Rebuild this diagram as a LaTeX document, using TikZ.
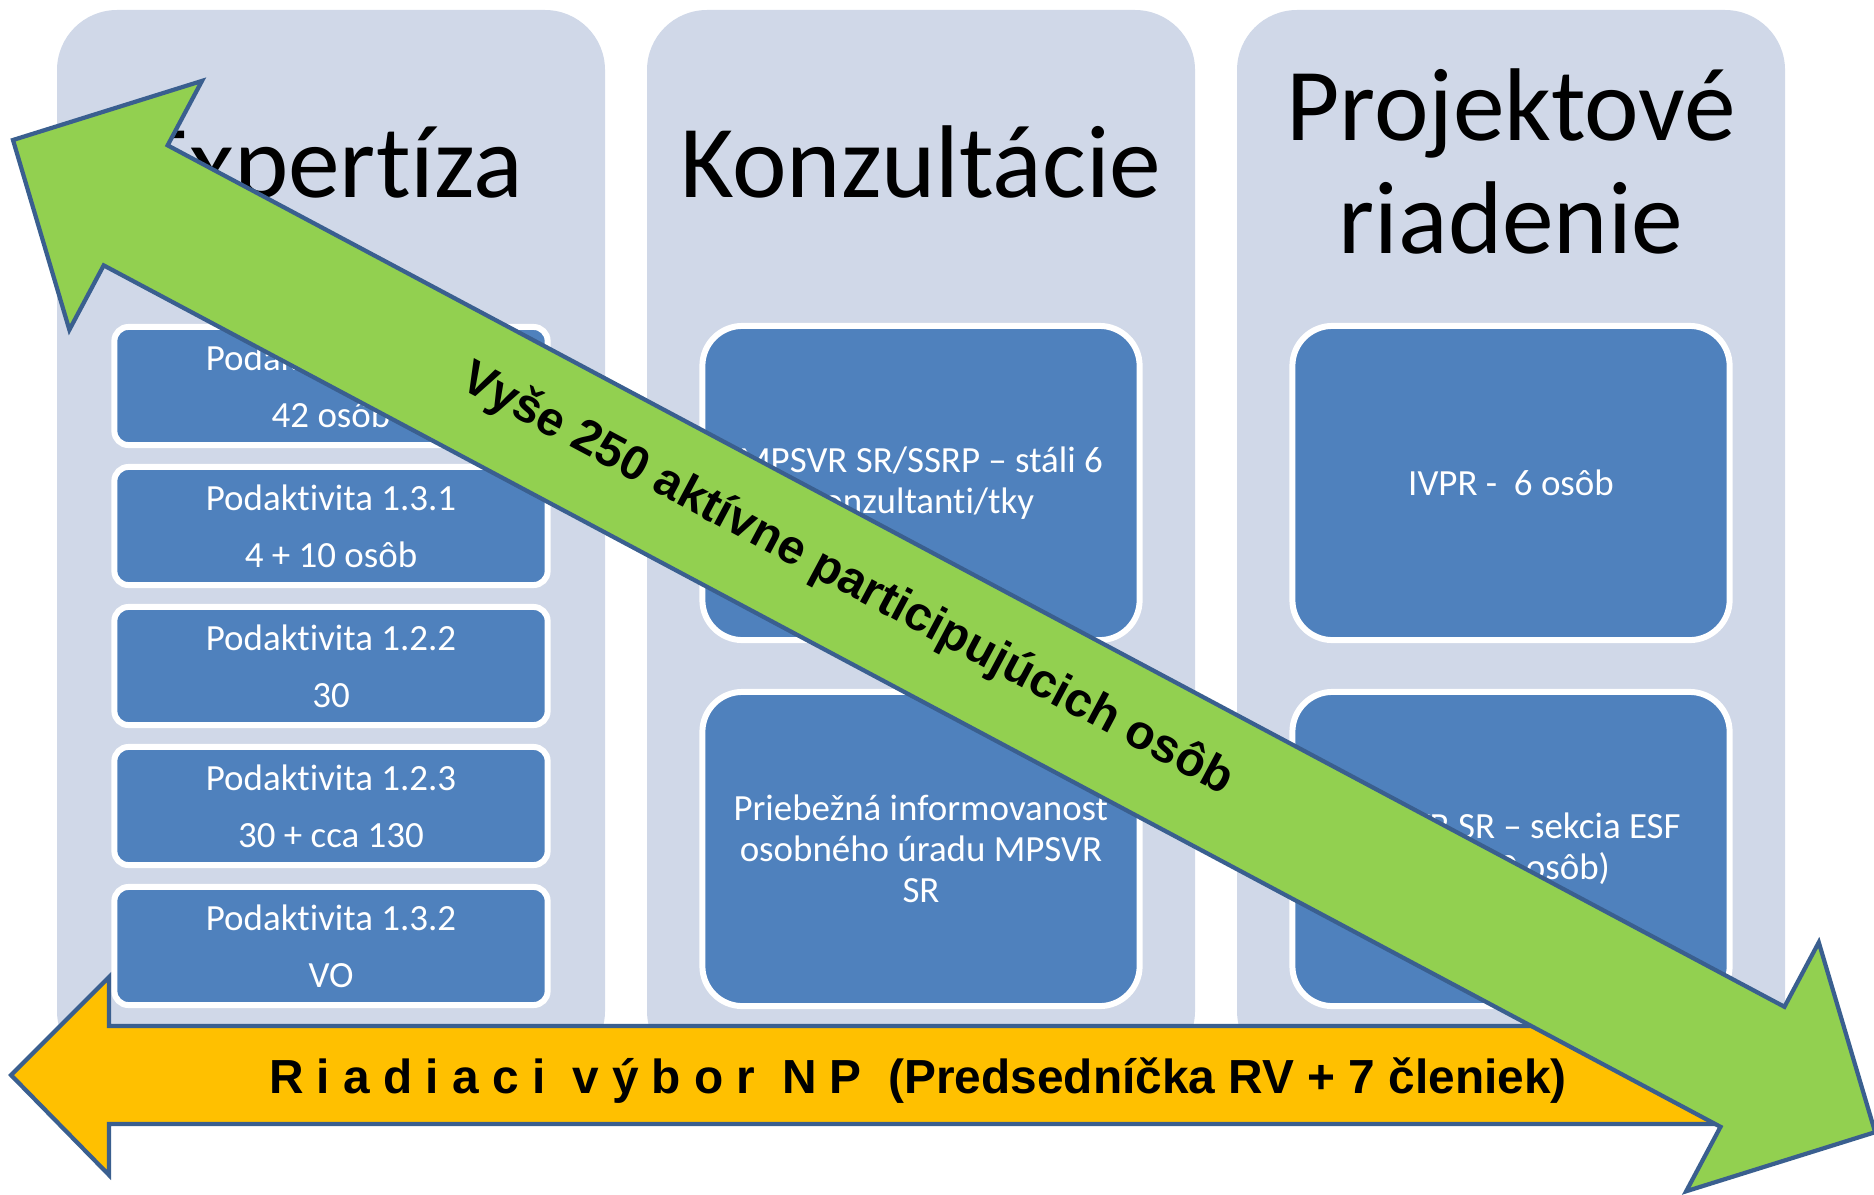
\documentclass[tikz,border=0pt]{standalone}
\usepackage{fontspec}
\setmainfont{Carlito}[Ligatures={TeX,NoCommon,NoContextual}]
\newfontfamily\arialfont{Liberation Sans}
\definecolor{colbg}{HTML}{D0D8E8}
\definecolor{boxblue}{HTML}{4F81BD}
\definecolor{arrowgreen}{HTML}{92D050}
\definecolor{arroworange}{HTML}{FFC000}
\definecolor{arrowline}{HTML}{3A5F8F}
\begin{document}
\begin{tikzpicture}[x=0.01cm,y=-0.01cm,
    column/.style={fill=colbg,rounded corners=6mm},
    heading/.style={anchor=base,font=\fontsize{29.4}{32}\selectfont},
    subbox/.style={draw=white,line width=1.7pt,fill=boxblue,text=white,align=center,
      inner sep=0pt,rounded corners=1.4mm,minimum width=4.33cm,minimum height=1.18cm,
      font=\fontsize{10.5}{16.2}\selectfont},
    bigbox/.style={subbox,rounded corners=4mm,minimum width=4.37cm,minimum height=3.14cm,
      font=\fontsize{10.5}{11.7}\selectfont},
    arrowshape/.style={draw=arrowline,line width=1.2pt},
    arrowtext/.style={anchor=base,font=\arialfont\bfseries\fontsize{#1}{16}\selectfont}]
  \useasboundingbox (0,0) rectangle (1874,1194);
  \foreach \x in {57,647,1237}
    \fill[column] (\x,10) rectangle ++(548,1061);
  \node[heading] (expertiza) at (331,197) {Expertíza};
  \node[heading] (konzultacie) at (921,197) {Konzultácie};
  \node[heading] (projektove) at (1511,140) {Projektové};
  \node[heading] (riadenie) at (1511,253) {riadenie};
  \node[subbox] (pa121) at (331,386) {Podaktivita 1.2.1\\42 osôb};
  \node[subbox] (pa131) at (331,526) {Podaktivita 1.3.1\\4 + 10 osôb};
  \node[subbox] (pa122) at (331,666) {Podaktivita 1.2.2\\30};
  \node[subbox] (pa123) at (331,806) {Podaktivita 1.2.3\\30 + cca 130};
  \node[subbox] (pa132) at (331,946) {Podaktivita 1.3.2\\VO};
  \node[bigbox] (ssrp) at (921,483) {MPSVR SR/SSRP – stáli 6\\konzultanti/tky};
  \node[bigbox] (urad) at (921,849) {Priebežná informovanosť\\osobného úradu MPSVR\\SR};
  \node[bigbox] (ivpr) at (1511,483) {IVPR -\ \ 6 osôb};
  \node[bigbox] (esf) at (1511,849) {MPSVR SR – sekcia ESF\\(cca 10 osôb)};
  \draw[arrowshape,fill=arroworange] (11,1075) -- (109,977) -- (109,1026) -- (1825,1026)
    -- (1825,1124) -- (109,1124) -- (109,1175) -- cycle;
  \node[arrowtext=13.6] (vybor) at (918,1093)
    {R i a d i a c i\ \ v ý b o r\ \ N P\ \ (Predsedníčka RV + 7 členiek)};
  \begin{scope}[shift={(13,140)},rotate=-28.05]
    \draw[arrowshape,fill=arrowgreen] (0,0) -- (139,-141) -- (139,-68) -- (1971,-68)
      -- (1971,-141) -- (2110,0) -- (1971,141) -- (1971,68) -- (139,68) -- (139,141) -- cycle;
    \node[arrowtext=13.66,rotate=-28.05] (vyse) at (943,9) {Vyše 250 aktívne participujúcich osôb};
  \end{scope}
\end{tikzpicture}
\end{document}
